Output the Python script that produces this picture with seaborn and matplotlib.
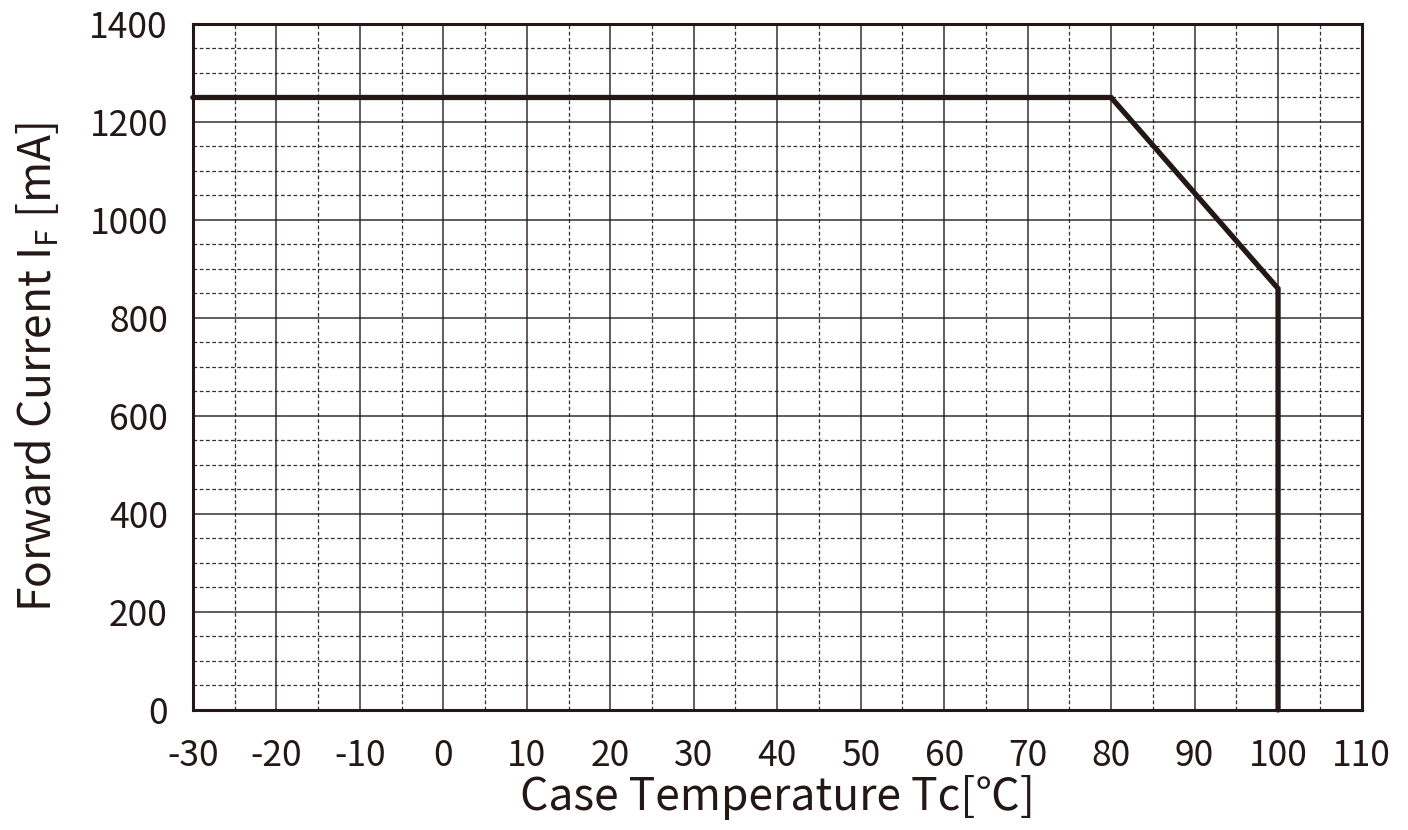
import matplotlib
matplotlib.use("Agg")
import matplotlib.pyplot as plt
import seaborn as sns
import pandas as pd
from matplotlib.ticker import MultipleLocator

# derating curve: case temperature vs max forward current
case_temp = [-30, 80, 100, 100]
forward_current = [1250, 1250, 860, 0]

x_major = 10
x_minor = 5
y_major = 200
y_minor = 50

ink = '#231815'

sns.set_style('white')
plt.rcParams['font.family'] = ['Noto Sans CJK JP', 'DejaVu Sans']
plt.rcParams['mathtext.default'] = 'regular'
plt.rcParams['axes.unicode_minus'] = False

df = pd.DataFrame({'temp': case_temp, 'current': forward_current})

fig = plt.figure(figsize=(14.08, 8.30), dpi=100)
ax = fig.add_axes([0.137, 0.1446, 0.830, 0.8265])

sns.lineplot(data=df, x='temp', y='current', ax=ax, sort=False, estimator=None,
             color=ink, linewidth=3.8, zorder=5)
for ln in ax.lines:
    ln.set_clip_on(False)
    ln.set_solid_joinstyle('miter')

ax.set_xlim(-30, 110)
ax.set_ylim(0, 1400)
ax.xaxis.set_major_locator(MultipleLocator(x_major))
ax.xaxis.set_minor_locator(MultipleLocator(x_minor))
ax.yaxis.set_major_locator(MultipleLocator(y_major))
ax.yaxis.set_minor_locator(MultipleLocator(y_minor))

ax.grid(which='major', color=ink, linestyle='-', linewidth=1.1, alpha=0.9)
ax.grid(which='minor', color=ink, linestyle=(0, (3, 2)), linewidth=0.9, alpha=0.9)
ax.set_axisbelow(True)

for side in ax.spines.values():
    side.set_visible(True)
    side.set_color(ink)
    side.set_linewidth(2.2)

ax.tick_params(which='both', length=0, colors=ink, labelsize=25.5)
ax.tick_params(axis='x', pad=20)
ax.tick_params(axis='y', pad=18)

ax.set_xlabel('Case Temperature Tc[℃]', fontsize=32, color=ink, labelpad=0)
ax.set_ylabel('Forward Current I$_{F}$ [mA]', fontsize=32, color=ink, labelpad=20)

fig.savefig('out.png', dpi=100)
